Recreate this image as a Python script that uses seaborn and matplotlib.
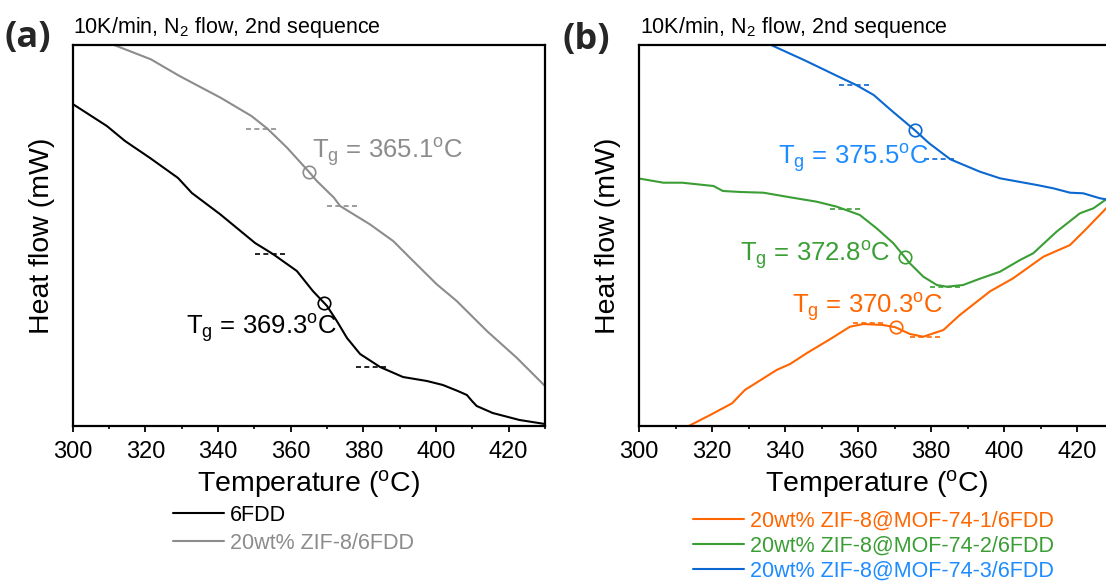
import numpy as np
import pandas as pd
import matplotlib
matplotlib.use("Agg")
import matplotlib.pyplot as plt
from matplotlib.lines import Line2D
from matplotlib.ticker import MultipleLocator
from matplotlib import font_manager
import seaborn as sns

# ---------------- data: panel (a) ----------------
temp_6fdd = [300.0, 309.4, 314.4, 321.3, 329.0, 332.8, 340.5, 350.2, 355.1, 361.7,
             366.1, 370.0, 372.7, 375.5, 379.1, 384.6, 390.9, 397.5, 401.9, 406.0,
             408.5, 409.9, 411.2, 415.6, 423.0, 430.0]
hf_6fdd = [322, 300, 285, 268, 248, 233, 212, 183, 172, 155,
           135, 120, 105, 88, 72, 59, 49, 45, 41, 35,
           31, 25, 20, 13, 6, 2]

temp_zif8 = [310.0, 311.6, 321.5, 329.4, 340.7, 349.2, 353.6, 359.0, 365.0, 367.2,
             371.9, 373.6, 381.8, 388.2, 392.8, 400.2, 405.7, 414.0, 422.2, 430.0]
hf_zif8 = [386, 380.7, 366.7, 350, 328.3, 310, 297.3, 278.3, 254.3, 245,
           228.3, 220, 201.7, 185, 168.3, 141.7, 125, 95, 68.3, 40]

labels_a = ["6FDD", "20wt% ZIF-8/6FDD"]
tg_a = [369.3, 365.1]
# baseline tangents (start T, end T, level) before and after transition
base_lo_a = [(350.2, 359.0, 172), (347.7, 355.9, 297.3)]
base_hi_a = [(378.0, 386.5, 59), (369.9, 378.6, 220)]

# ---------------- data: panel (b) ----------------
temp_m1 = [313.6, 319.5, 325.5, 329.0, 334.1, 337.7, 341.4, 345.9, 352.3, 357.8,
           361.5, 366.9, 370.3, 374.2, 377.9, 383.4, 387.9, 396.2, 402.5, 410.8,
           418.1, 422.7, 428.0, 430.0]
hf_m1 = [0, 11, 22.7, 36, 47.7, 56, 62, 72.7, 86.7, 99.3,
         102, 101, 98.7, 92, 89.3, 96, 111, 134.7, 147.7, 169.3,
         181, 197.7, 217.7, 227]

temp_m2 = [300.0, 306.7, 311.8, 320.4, 323.0, 327.9, 334.1, 341.4, 348.7, 354.2,
           360.5, 365.1, 369.7, 374.2, 377.9, 381.6, 384.3, 388.8, 393.4, 398.9,
           404.4, 408.0, 414.4, 420.8, 424.5, 428.0, 430.0]
hf_m2 = [247.5, 243.3, 243.3, 240, 235, 234, 233.3, 228.7, 224.3, 219.3,
         211, 197.7, 182.7, 162.7, 149.3, 141, 139.3, 141, 147.3, 154.3,
         166, 172.7, 194.3, 212.7, 217.7, 226.7, 236]

temp_m3 = [334.5, 336.6, 345.2, 350.9, 354.7, 359.5, 364.3, 369.0, 375.5, 379.5, 385.3,
           387.9, 393.4, 398.9, 402.5, 409.0, 413.5, 418.1, 421.7, 426.3, 428.0, 430.0]
hf_m3 = [386, 380.3, 366, 356, 349.3, 341, 331, 316, 296, 282.7, 266.7,
         262.7, 254.3, 247.7, 245.3, 241, 237.7, 233.3, 232.7, 227.7, 226.7, 225]

labels_b = ["20wt% ZIF-8@MOF-74-1/6FDD", "20wt% ZIF-8@MOF-74-2/6FDD",
            "20wt% ZIF-8@MOF-74-3/6FDD"]
tg_b = [370.3, 372.8, 375.5]
base_lo_b = [(358.6, 366.8, 103.3), (352.3, 361.0, 216.7), (354.7, 363.3, 341)]
base_hi_b = [(374.2, 382.9, 88.7), (379.7, 388.4, 139.3), (378.2, 386.8, 266.7)]

xticks = [300, 320, 340, 360, 380, 400, 420]

# ---------------- styling ----------------
sns.set_theme(style="ticks")
plt.rcParams["font.family"] = ["Liberation Sans", "DejaVu Sans"]
plt.rcParams["mathtext.default"] = "regular"

try:
    font_manager.findfont("Liberation Sans Narrow", fallback_to_default=False)
    tg_family = ["Liberation Sans Narrow", "Liberation Sans"]
    tg_size = 22
except Exception:
    tg_family = ["Liberation Sans", "DejaVu Sans"]
    tg_size = 18.5

colors_a = ["#000000", "#8c8c8c"]
text_a = ["#000000", "#8c8c8c"]
colors_b = ["#ff6600", "#3a9e35", "#0a68d0"]
text_b = ["#ff6600", "#3a9e35", "#1e8cff"]

W, H = 1106, 583
fig = plt.figure(figsize=(W / 100, H / 100), dpi=100)
top_px, bot_px = 45, 426
ax_a = fig.add_axes([72.7 / W, 1 - bot_px / H, 472.3 / W, (bot_px - top_px) / H])
ax_b = fig.add_axes([639 / W, 1 - bot_px / H, 474.5 / W, (bot_px - top_px) / H])

df_a = pd.concat([
    pd.DataFrame({"T": temp_6fdd, "HF": hf_6fdd, "s": labels_a[0]}),
    pd.DataFrame({"T": temp_zif8, "HF": hf_zif8, "s": labels_a[1]}),
])
df_b = pd.concat([
    pd.DataFrame({"T": temp_m1, "HF": hf_m1, "s": labels_b[0]}),
    pd.DataFrame({"T": temp_m2, "HF": hf_m2, "s": labels_b[1]}),
    pd.DataFrame({"T": temp_m3, "HF": hf_m3, "s": labels_b[2]}),
])

sns.lineplot(data=df_a, x="T", y="HF", hue="s", palette=dict(zip(labels_a, colors_a)),
             estimator=None, sort=False, lw=1.5, legend=False, ax=ax_a)
sns.lineplot(data=df_b, x="T", y="HF", hue="s", palette=dict(zip(labels_b, colors_b)),
             estimator=None, sort=False, lw=1.5, legend=False, ax=ax_b)

series_a = [(temp_6fdd, hf_6fdd), (temp_zif8, hf_zif8)]
series_b = [(temp_m1, hf_m1), (temp_m2, hf_m2), (temp_m3, hf_m3)]

def decorate(ax, series, tgs, lo, hi, cols, tcols, text_pos):
    for (t, h), tg, l, u, c, tc, (tx, ty) in zip(series, tgs, lo, hi, cols, tcols, text_pos):
        yv = np.interp(tg, t, h)
        ax.plot([tg], [yv], marker="o", ms=9, mfc="none", mec=c, mew=1.2, ls="none")
        for (t0, t1, lev) in (l, u):
            ax.plot([t0, t1], [lev, lev], color=c, lw=1.2, ls=(0, (3, 2)))
        ax.text(tx, ty, f"T$_g$ = {tg:.1f}$^o$C", color=tc, fontsize=tg_size,
                family=tg_family, ha="left", va="baseline")

decorate(ax_a, series_a, tg_a, base_lo_a, base_hi_a, colors_a, text_a,
         [(331.2, 91.7), (365.9, 267)])
decorate(ax_b, series_b, tg_b, base_lo_b, base_hi_b, colors_b, text_b,
         [(341.8, 112.7), (327.7, 164.3), (338.0, 261)])

for ax in (ax_a, ax_b):
    ax.set_xlim(300, 430)
    ax.set_ylim(0, bot_px - top_px)
    ax.set_xticks(xticks)
    ax.xaxis.set_minor_locator(MultipleLocator(10))
    ax.set_yticks([])
    ax.tick_params(axis="x", which="major", direction="out", length=4, width=1.3,
                   labelsize=17, pad=6.5, color="black", labelcolor="black")
    ax.tick_params(axis="x", which="minor", direction="out", length=2.5, width=1.2,
                   color="black")
    for sp in ax.spines.values():
        sp.set_visible(True)
        sp.set_linewidth(1.6)
        sp.set_color("black")
    ax.set_xlabel("Temperature ($^o$C)", fontsize=20.5, labelpad=4, color="black")
    ax.set_ylabel("Heat flow (mW)", fontsize=20.5, labelpad=13, color="black")

# header texts
fig.text(73 / W, 1 - 33 / H, "10K/min, N$_2$ flow, 2nd sequence", fontsize=15.5,
         ha="left", va="baseline", color="black")
fig.text(640 / W, 1 - 33 / H, "10K/min, N$_2$ flow, 2nd sequence", fontsize=15.5,
         ha="left", va="baseline", color="black")
fig.text(5 / W, 1 - 38 / H, "(a)", fontsize=26, fontweight="bold", ha="left",
         va="center", family=["Open Sans", "DejaVu Sans"])
fig.text(562 / W, 1 - 40 / H, "(b)", fontsize=26, fontweight="bold", ha="left",
         va="center", family=["Open Sans", "DejaVu Sans"])

def add_legend(labels, cols, tcols, x_px, y_px, spacing):
    handles = [Line2D([], [], color=c, lw=1.5) for c in cols]
    leg = fig.legend(handles, labels, loc="upper left",
                     bbox_to_anchor=(x_px / W, 1 - y_px / H), frameon=False,
                     fontsize=15.5, handlelength=2.35, handletextpad=0.3,
                     labelspacing=spacing, borderpad=0, borderaxespad=0)
    for txt, tc in zip(leg.get_texts(), tcols):
        txt.set_color(tc)

add_legend(labels_a, colors_a, text_a, 173, 505, 0.32)
add_legend(labels_b, colors_b, text_b, 693, 511, 0.18)

fig.savefig("out.png", dpi=100)
